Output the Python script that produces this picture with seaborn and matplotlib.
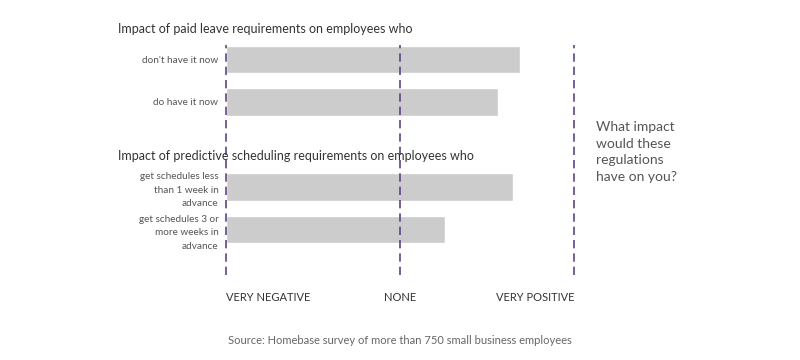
import pandas as pd
import seaborn as sns
import matplotlib.pyplot as plt

# survey answers, -1 = very negative, 0 = none, +1 = very positive
groups = ['Impact of paid leave requirements on employees who',
          'Impact of predictive scheduling requirements on employees who']
labels = ["don't have it now", 'do have it now',
          'get schedules less\nthan 1 week in\nadvance',
          'get schedules 3 or\nmore weeks in\nadvance']
scores = [0.69, 0.56, 0.65, 0.26]
tick_labels = ['VERY NEGATIVE', 'NONE', 'VERY POSITIVE']
side_note = 'What impact\nwould these\nregulations\nhave on you?'
source = 'Source: Homebase survey of more than 750 small business employees'

sns.set_theme(style='white')
plt.rcParams['font.family'] = ['Lato', 'DejaVu Sans']

df = pd.DataFrame({'label': labels, 'score': scores})
df['shifted'] = df['score'] + 1  # bars start at "very negative"
order = labels[:2] + [' '] + labels[2:]

fig = plt.figure(figsize=(8, 3.6), dpi=100)
ax = fig.add_axes([0.28, 0.236, 0.44, 0.639])

sns.barplot(data=df, x='shifted', y='label', order=order, orient='h',
            color='#cccccc', saturation=1, width=0.64, ax=ax)

for xv in [0, 1, 2]:
    ax.axvline(xv, color='#5e4485', lw=1.2, ls=(0, (5, 3)), zorder=3)

ax.set_xlim(-0.01, 2.01)
ax.set_ylim(5.07, -0.34)
ax.set_xticks([0, 1, 2])
ax.set_xticklabels(tick_labels, fontsize=8, color='#333333')
for t, ha in zip(ax.get_xticklabels(), ['left', 'center', 'right']):
    t.set_horizontalalignment(ha)
ax.tick_params(axis='x', length=0, pad=12)
ax.tick_params(axis='y', length=0, pad=4)
for t in ax.get_yticklabels():
    t.set_fontsize(7.2)
    t.set_color('#555555')
    t.set_horizontalalignment('right')
    t.set_multialignment('right')
    t.set_linespacing(1.65)
ax.set_xlabel('')
ax.set_ylabel('')
sns.despine(ax=ax, left=True, bottom=True)

fig.text(118 / 800, 1 - 29 / 360, groups[0], fontsize=9, color='#333333', va='center')
fig.text(118 / 800, 1 - 156 / 360, groups[1], fontsize=9, color='#333333', va='center')
fig.text(596 / 800, 1 - 152 / 360, side_note, fontsize=10, color='#555555',
         va='center', linespacing=1.45)
fig.text(400 / 800, 1 - 340 / 360, source, fontsize=8, color='#666666',
         ha='center', va='center')

fig.savefig('out.png', dpi=100, facecolor='white')
